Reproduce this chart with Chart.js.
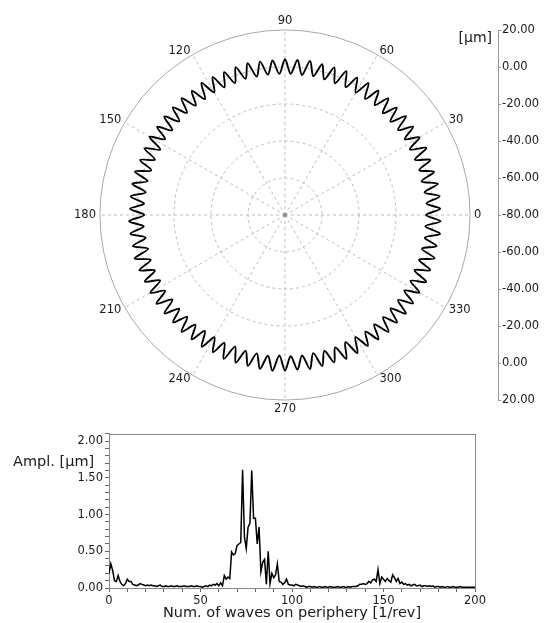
<!DOCTYPE html>
<html>
<head>
<meta charset="utf-8">
<script src="https://cdn.jsdelivr.net/npm/chart.js@4.4.1/dist/chart.umd.min.js"></script>
<style>
  html, body { margin: 0; padding: 0; background: #fff; }
  body { width: 544px; height: 623px; position: relative; overflow: hidden; }
  #polarBox { position: absolute; left: 0; top: 0; width: 544px; height: 427px; }
  #specBox { position: absolute; left: 0; top: 425px; width: 544px; height: 198px; }
</style>
</head>
<body>
<div id="polarBox"><canvas id="polarChart"></canvas></div>
<div id="specBox"><canvas id="specChart"></canvas></div>
<script>
// roundness profile [µm], peak / valley pairs, clockwise from 90 deg
const profile = [
  4.2, -3.6, 4.0, -3.8, 4.4, -3.4, 3.9, -3.7, 4.1, -3.9, 4.5, -3.5,
  3.8, -3.6, 4.3, -3.8, 4.0, -3.3, 4.2, -3.7, 3.7, -3.9, 4.4, -3.6,
  4.1, -3.4, 3.9, -3.8, 4.6, -3.7, 4.0, -3.5, 3.8, -4.0, 4.3, -3.6,
  4.2, -3.3, 3.9, -3.7, 4.1, -3.9, 4.4, -3.5, 3.6, -3.8, 4.2, -3.6,
  4.0, -3.9, 4.5, -3.4, 3.8, -3.7, 4.1, -3.6, 4.3, -3.8, 3.9, -3.5,
  4.4, -3.7, 4.0, -3.4, 3.7, -3.8, 4.2, -3.9, 4.5, -3.5, 3.9, -3.6,
  4.1, -3.8, 4.3, -3.5, 3.8, -3.6, 4.0, -4.0, 4.4, -3.4, 4.2, -3.7,
  3.9, -3.6, 4.1, -3.9, 4.5, -3.5, 3.7, -3.7, 4.2, -3.8, 4.0, -3.4,
  4.3, -3.7, 3.8, -3.6, 4.1, -3.9, 4.4, -3.3, 4.0, -3.8, 3.9, -3.6,
  4.2, -3.5, 4.6, -3.8, 3.9, -3.7, 4.1, -3.4, 4.3, -3.9, 3.8, -3.6,
  4.0, -3.7, 4.2, -3.5, 4.4, -3.8, 3.7, -3.6, 4.1, -3.9, 4.5, -3.4,
  3.9, -3.8, 4.2, -3.6, 4.0, -3.5, 4.3, -3.7, 3.8, -3.9, 4.4, -3.5,
  4.1, -3.6, 3.9, -3.8, 4.2, -3.4, 4.5, -3.7, 4.0, -3.6, 3.8, -3.7
];
// angle labels, clockwise from top
const angleTicks = [90, 60, 30, 0, 330, 300, 270, 240, 210, 180, 150, 120];
// side scale of the polar plot
const sideTicks = [20, 0, -20, -40, -60, -80, -60, -40, -20, 0, 20];

// spectrum: amplitude [µm] per number of waves 0..200
const spectrumAmpl = [
  0.20, 0.33, 0.24, 0.10, 0.09, 0.17, 0.09, 0.05, 0.03, 0.06,
  0.12, 0.09, 0.09, 0.05, 0.04, 0.03, 0.04, 0.06, 0.05, 0.04,
  0.03, 0.04, 0.03, 0.04, 0.03, 0.03, 0.02, 0.03, 0.04, 0.02,
  0.02, 0.03, 0.02, 0.02, 0.03, 0.02, 0.02, 0.03, 0.02, 0.02,
  0.02, 0.03, 0.02, 0.02, 0.02, 0.03, 0.02, 0.02, 0.03, 0.02,
  0.02, 0.01, 0.02, 0.03, 0.02, 0.04, 0.03, 0.05, 0.04, 0.06,
  0.03, 0.07, 0.03, 0.17, 0.12, 0.15, 0.13, 0.49, 0.45, 0.47,
  0.58, 0.60, 0.62, 1.61, 0.70, 0.54, 0.83, 0.88, 1.60, 0.95,
  0.95, 0.60, 0.83, 0.22, 0.35, 0.39, 0.05, 0.50, 0.06, 0.20,
  0.14, 0.18, 0.33, 0.09, 0.08, 0.05, 0.07, 0.12, 0.05, 0.04,
  0.04, 0.03, 0.05, 0.04, 0.03, 0.02, 0.03, 0.02, 0.01, 0.02,
  0.02, 0.01, 0.02, 0.01, 0.01, 0.02, 0.01, 0.01, 0.02, 0.01,
  0.01, 0.02, 0.01, 0.01, 0.01, 0.02, 0.01, 0.01, 0.02, 0.01,
  0.01, 0.02, 0.01, 0.02, 0.02, 0.02, 0.03, 0.05, 0.05, 0.06,
  0.05, 0.06, 0.09, 0.07, 0.11, 0.12, 0.09, 0.25, 0.06, 0.15,
  0.12, 0.09, 0.13, 0.10, 0.08, 0.18, 0.14, 0.09, 0.13, 0.06,
  0.08, 0.05, 0.06, 0.04, 0.05, 0.03, 0.04, 0.05, 0.03, 0.03,
  0.04, 0.02, 0.03, 0.03, 0.02, 0.03, 0.02, 0.03, 0.01, 0.02,
  0.02, 0.01, 0.02, 0.01, 0.01, 0.02, 0.01, 0.01, 0.02, 0.01,
  0.01, 0.01, 0.02, 0.01, 0.01, 0.01, 0.01, 0.01, 0.01, 0.01,
  0.01
];
const waveOrders = spectrumAmpl.map((v, i) => i);

Chart.defaults.font.family = 'DejaVu Sans';
Chart.defaults.font.size = 11.5;
Chart.defaults.color = '#1a1a1a';

const step = profile.length / angleTicks.length;
const polarLabels = profile.map((v, i) => (i % step === 0 ? String(angleTicks[i / step]) : ''));

const polarExtras = {
  id: 'polarExtras',
  afterDraw(chart) {
    const sc = chart.scales.r;
    const c = chart.ctx;
    c.save();
    // centre dot
    c.fillStyle = '#888';
    c.beginPath();
    c.arc(sc.xCenter, sc.yCenter, 2, 0, Math.PI * 2);
    c.fill();
    // side scale
    const xLine = 498;
    const half = (sideTicks.length - 1) / 2;
    const ys = sideTicks.map((v, k) => sc.yCenter + (k < half ? -1 : 1) * sc.getDistanceFromCenterForValue(v));
    c.strokeStyle = '#999';
    c.lineWidth = 1;
    c.beginPath();
    c.moveTo(xLine + 0.5, ys[0]);
    c.lineTo(xLine + 0.5, ys[ys.length - 1]);
    ys.forEach(y => { c.moveTo(xLine, Math.round(y) + 0.5); c.lineTo(xLine + 3, Math.round(y) + 0.5); });
    c.stroke();
    c.fillStyle = '#1a1a1a';
    c.font = '11.5px "DejaVu Sans"';
    c.textAlign = 'left';
    c.textBaseline = 'middle';
    sideTicks.forEach((v, k) => c.fillText(v.toFixed(2), xLine + 4, ys[k]));
    c.font = '14px "DejaVu Sans"';
    c.textAlign = 'right';
    c.fillText('[µm]', xLine - 6, ys[0] + 8);
    c.restore();
  }
};

new Chart('polarChart', {
  type: 'radar',
  data: {
    labels: polarLabels,
    datasets: [{
      data: profile,
      borderColor: '#000',
      borderWidth: 1.9,
      pointRadius: 0,
      fill: false,
      tension: 0.3,
    }],
  },
  options: {
    responsive: true,
    maintainAspectRatio: false,
    animation: false,
    layout: { padding: { left: 67, right: 55, top: 5, bottom: 0 } },
    plugins: { legend: { display: false }, tooltip: { enabled: false } },
    scales: {
      r: {
        min: -80,
        max: 20,
        ticks: { display: false, stepSize: 20 },
        grid: {
          circular: true,
          color: ctx => (ctx.tick && ctx.tick.value === 20 ? '#a8a8a8' : '#bdbdbd'),
          lineWidth: 1,
        },
        border: { dash: ctx => (ctx.tick && ctx.tick.value === 20 ? [] : [3, 3]) },
        angleLines: {
          color: '#bdbdbd',
          lineWidth: ctx => (ctx.index % step === 0 ? 1 : 0),
          borderDash: [3, 3],
        },
        pointLabels: {
          // labels centred on their anchor point, like the original
          padding: ctx => (ctx.index % (profile.length / 2) === 0 ? 9 : 4),
          color: '#1a1a1a',
          font: { size: 11.5, lineHeight: 0.01 },
        },
      },
    },
  },
  plugins: [polarExtras],
});

const specExtras = {
  id: 'specExtras',
  afterDraw(chart) {
    const { left, right, top, bottom } = chart.chartArea;
    const c = chart.ctx;
    c.save();
    c.strokeStyle = '#888';
    c.lineWidth = 1;
    c.beginPath();
    c.moveTo(left, Math.round(top) + 0.5);
    c.lineTo(right, Math.round(top) + 0.5);
    c.moveTo(Math.round(right) + 0.5, top);
    c.lineTo(Math.round(right) + 0.5, bottom);
    c.stroke();
    c.fillStyle = '#1a1a1a';
    c.font = '14.5px "DejaVu Sans"';
    c.textAlign = 'left';
    c.textBaseline = 'middle';
    c.fillText('Ampl. [µm]', 13, 37);
    c.restore();
  }
};

new Chart('specChart', {
  type: 'line',
  data: {
    datasets: [{
      data: spectrumAmpl.map((y, i) => ({ x: waveOrders[i], y })),
      borderColor: '#000',
      borderWidth: 1.5,
      pointRadius: 0,
      fill: false,
      tension: 0,
    }],
  },
  options: {
    responsive: true,
    maintainAspectRatio: false,
    animation: false,
    layout: { padding: { top: 8, right: 69, left: 0, bottom: 0 } },
    plugins: { legend: { display: false }, tooltip: { enabled: false } },
    scales: {
      x: {
        type: 'linear',
        min: 0,
        max: 200,
        afterFit: s => { s.height = 35; },
        ticks: {
          stepSize: 10,
          autoSkip: false,
          maxRotation: 0,
          padding: 2,
          callback: v => (v % 50 === 0 ? String(v) : ''),
        },
        grid: { drawOnChartArea: false, tickLength: 4, color: '#666' },
        border: { color: '#888' },
        title: {
          display: true,
          text: 'Num. of waves on periphery [1/rev]',
          font: { size: 14.5 },
          padding: { top: 0, bottom: 1 },
        },
      },
      y: {
        min: 0,
        max: 2.1,
        afterFit: s => { s.width = 109; },
        ticks: {
          stepSize: 0.1,
          autoSkip: false,
          padding: 2,
          callback: v => (Math.abs(v * 2 - Math.round(v * 2)) < 1e-6 ? v.toFixed(2) : ''),
        },
        grid: { drawOnChartArea: false, tickLength: 4, color: '#666' },
        border: { color: '#888' },
      },
    },
  },
  plugins: [specExtras],
});
</script>
</body>
</html>
